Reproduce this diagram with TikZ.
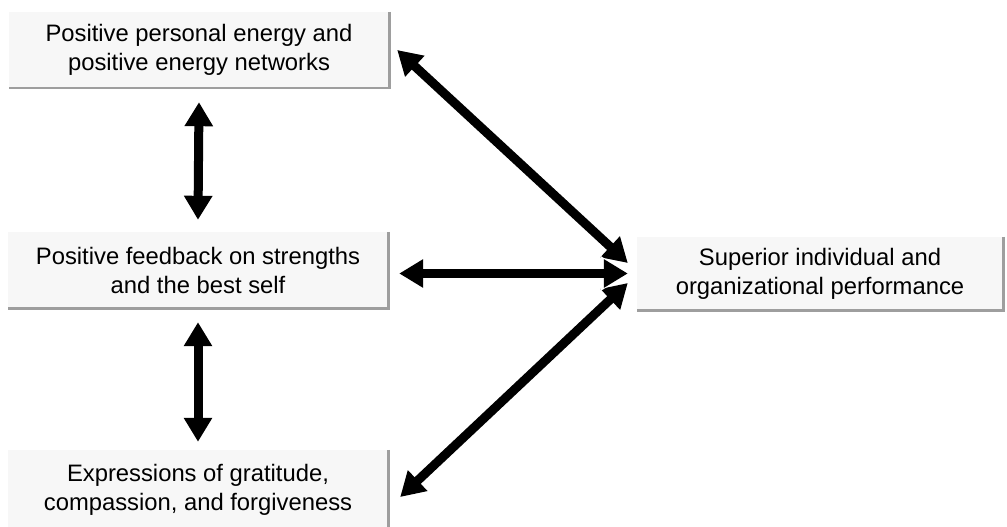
\documentclass[tikz,border=0pt]{standalone}
\usepackage{fontspec}
\setmainfont{Liberation Sans}
\usetikzlibrary{arrows.meta,calc}
\tikzset{
  box/.style={fill=black!3, draw=none, minimum width=380pt, minimum height=76pt,
    align=center, inner sep=0pt, font=\fontsize{23.8}{29}\selectfont},
  edge/.style={draw=black!38, line width=2.6pt},
  biarrow/.style={line width=9pt, black,
    {Triangle[width=27pt,length=24pt]}-{Triangle[width=27pt,length=24pt]}},
  whiteout/.style={preaction={draw=white, line width=13pt,
    -{Triangle[width=33pt,length=27pt]}}}
}
\begin{document}
\begin{tikzpicture}[x=1pt,y=-1pt]
\useasboundingbox (0,0) rectangle (1007,527);
\node[box] (b1) at (199,50) {Positive personal energy and\\positive energy networks};
\node[box] (b2) at (198,270) {Positive feedback on strengths\\and the best self};
\node[box, minimum height=80pt] (b3) at (198,490) {Expressions of gratitude,\\compassion, and forgiveness};
\node[box, minimum width=366pt, minimum height=73pt] (perf) at (820,273.5) {Superior individual and\\organizational performance};
\foreach \b in {b1,b2,b3,perf}{
  \draw[edge] (\b.north east) -- (\b.south east) -- (\b.south west);
}
\coordinate (c) at ([xshift=-9pt]perf.west);
\coordinate (h) at ([xshift=11pt]b2.east);
\draw[biarrow] ([yshift=-14pt]b1.south) -- ([yshift=12pt]b2.north);
\draw[biarrow] ([yshift=-14pt]b2.south) -- ([yshift=8pt]b3.north);
\draw[biarrow] ([xshift=8pt]b1.east) -- ([yshift=10.5pt]c);
\draw[biarrow] ([xshift=12pt,yshift=-7pt]b3.east) -- ([yshift=-9.5pt]c);
\draw[biarrow, whiteout] (h |- c) -- (c);
\end{tikzpicture}
\end{document}
